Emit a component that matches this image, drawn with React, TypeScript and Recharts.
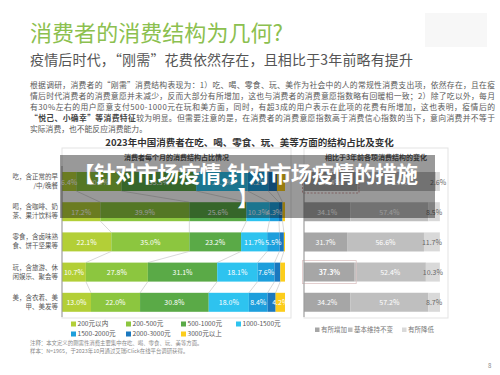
import React from 'react';
import { BarChart, Bar, XAxis, YAxis, LabelList } from 'recharts';

const categories = [
  '吃，含正常的早\n/中/晚餐',
  '喝，含咖啡、奶\n茶、果汁饮料等',
  '零食，含卤味熟\n食、饼干坚果等',
  '玩，含旅游、休\n闲娱乐、聚会等',
  '美，含衣着、美\n甲、美发等',
];
const spendBands = ['200元以内', '200-500元', '500-1000元', '1000-1500元', '1500-2000元', '2000-3000元', '3000元以上'];
const spendShares = [
  [6.4, 20.3, 33.5, 23.1, 9.2, 3.9, 3.6],
  [17.2, 39.9, 25.6, 10.3, 4.3, 1.6, 1.1],
  [22.1, 35.0, 23.2, 11.7, 5.5, 2.0, 0.5],
  [10.7, 27.8, 31.1, 18.1, 7.6, 2.6, 2.1],
  [13.0, 22.0, 30.8, 18.0, 8.4, 3.6, 4.2],
];
const changeLabels = ['有所增加', '基本维持不变', '有所降低'];
const increased = [39.4, 34.1, 31.7, 37.3, 34.2];
const unchanged = [58.0, 57.4, 56.6, 52.4, 57.2];
const decreased = [2.6, 8.5, 11.7, 10.3, 8.7];
const highlightedRows = [0, 3];
const boldRows = [3];

const pageTitle = '消费者的消费结构为几何?';
const pageSubtitle = '疫情后时代，“刚需”花费依然存在，且相比于3年前略有提升';
const paragraph = [
  '根据调研，消费者的“刚需”消费结构表现为：1）吃、喝、零食、玩、美作为社会中的人的常规性消费支出项，依然存在，且在疫',
  '情后时代消费者的消费意愿并未减少，反而大部分有所增加，这也与消费者的消费意愿指数略有回暖相一致；2）除了吃以外，每月',
  '有30%左右的用户愿意支付500-1000元在玩和美方面，同时，有超3成的用户表示在此项的花费有所增加，这也表明，疫情后的',
];
const paragraphBold = '“悦己、小确幸”等消费特征';
const paragraphLine4 = '较为明显。但需要注意的是，在消费者的消费意愿指数高于消费信心指数的当下，意向消费并不等于';
const paragraphLine5 = '实际消费，也不能反应消费能力。';
const chartTitle = '2023年中国消费者在吃、喝、零食、玩、美等方面的结构占比及变化';
const leftHeader = '消费者每个月的消费结构占比情况';
const rightHeader = '相比于3年前各项消费结构的变化';
const notes = ['注释：本文定义的刚需性消费主要集中在吃、喝、零食、玩、美等方面。', '样本：N=1965，于2023年10月通过艾瑞iClick在线平台调研获得。'];
const bannerLines = ['【针对市场疫情,针对市场疫情的措施', '】'];
const pageNumber = '8';

const spendColors = ['#b3cf37', '#8cc63f', '#5aaa47', '#2ec3ef', '#1d9fdc', '#1b78bf', '#fccd1b'];
const changeColors = ['#a6a6a6', '#bfbfbf', '#d9d9d9'];
const FONT = '"Noto Sans CJK SC", "Noto Sans", sans-serif';

const spendData = categories.map((c, r) => {
  const o: any = { cat: c };
  spendBands.forEach((_, s) => { o['s' + s] = spendShares[r][s]; });
  return o;
});
const changeData = categories.map((c, r) => ({ cat: c, inc: increased[r], same: unchanged[r], dec: decreased[r] }));

const CH_H = 170;
const M_TOP = 18;
const M_BOT = 1;
const STEP = (CH_H - M_TOP - M_BOT) / categories.length;
const sum = (a: number[]) => a.reduce((p, v) => p + v, 0);

const makeSpendShape = (s: number) => (props: any) => {
  const { x, y, width, height, index, fill } = props;
  const val = spendShares[index][s];
  const parts: any[] = [<rect key="r" x={x} y={y} width={width} height={height} fill={fill} />];
  if (index < categories.length - 1 && s < spendBands.length - 1 && val > 0) {
    const ppu = width / val;
    const left = x + width - sum(spendShares[index].slice(0, s + 1)) * ppu;
    const nx = left + sum(spendShares[index + 1].slice(0, s + 1)) * ppu;
    parts.push(<line key="l" x1={x + width} y1={y + height} x2={nx} y2={y + STEP} stroke="#c8c8c8" strokeWidth={0.7} />);
  }
  return <g>{parts}</g>;
};

const decShape = (props: any) => {
  const { x, y, width, height, index, fill } = props;
  const parts: any[] = [<rect key="r" x={x} y={y} width={width} height={height} fill={fill} />];
  if (highlightedRows.includes(index) && decreased[index] > 0) {
    const ppu = width / decreased[index];
    const left = x - (increased[index] + unchanged[index]) * ppu;
    parts.push(
      <rect key="h" x={left - 1.5} y={y - 2} width={increased[index] * ppu + 3} height={height + 4} fill="none"
        stroke={index === 0 ? '#c98a8a' : '#dcc4c4'} strokeWidth={0.8} strokeDasharray={index === 0 ? '2 1.5' : undefined} />
    );
  }
  return <g>{parts}</g>;
};

const makeLabel = (color: string, min: number, boldFor?: number[]) => (props: any) => {
  const vb = props.viewBox || props;
  const { x, y, width, height } = vb;
  const value = props.value;
  if (value == null || value < min) return null;
  const bold = boldFor && boldFor.includes(props.index);
  return (
    <text x={x + width / 2} y={y + height / 2} textAnchor="middle" dominantBaseline="central" fill={color}
      fontSize={7} fontFamily={FONT} fontWeight={bold ? 700 : 400}>{Number(value).toFixed(1)}%</text>
  );
};

const CatTick = (props: any) => {
  const { x, y, payload } = props;
  const lines = String(payload.value).split('\n');
  return (
    <text x={x} y={y} textAnchor="end" fontSize={6.5} fill="#555" fontFamily={FONT}>
      {lines.map((l, i) => <tspan key={i} x={x} dy={i === 0 ? -2.2 : 9}>{l}</tspan>)}
    </text>
  );
};

export default function App() {
  return (
    <div style={{ position: 'absolute', left: 0, top: 0, width: 500, height: 375, background: '#fff', fontFamily: FONT, overflow: 'hidden' }}>
      <div style={{ position: 'absolute', left: 425, top: 13, width: 62, height: 34, background: '#f7f7f7' }} />
      <svg width={500} height={375} style={{ position: 'absolute', left: 0, top: 0 }} fontFamily={FONT}>
        <text x={30} y={41} fontSize={22} fill="#8cc04f" textLength={253} lengthAdjust="spacing">{pageTitle}</text>
        <text x={30} y={65} fontSize={14} fill="#555" textLength={383} lengthAdjust="spacing">{pageSubtitle}</text>
        {paragraph.map((l, i) => (
          <text key={i} x={30} y={88 + i * 11} fontSize={7.8} fill="#595959" textLength={465} lengthAdjust="spacing">{l}</text>
        ))}
        <text x={30} y={121} fontSize={7.8} fill="#595959" textLength={465} lengthAdjust="spacing">
          <tspan fontWeight={700} fill="#444">{paragraphBold}</tspan>{paragraphLine4}
        </text>
        <text x={30} y={132} fontSize={7.8} fill="#595959">{paragraphLine5}</text>
        <text x={249.5} y={146} fontSize={9.5} fontWeight={700} fill="#333" textAnchor="middle">{chartTitle}</text>
        <text x={176.5} y={159.5} fontSize={7} fontWeight={700} fill="#555" textAnchor="middle">{leftHeader}</text>
        <text x={376} y={159.5} fontSize={7} fontWeight={700} fill="#555" textAnchor="middle">{rightHeader}</text>
        <rect x={62} y={148} width={229} height={170} fill="none" stroke="#e3e3e3" strokeWidth={1} />
        <rect x={304} y={148} width={144} height={170} fill="none" stroke="#e3e3e3" strokeWidth={1} />
        {spendBands.map((b, i) => {
          const lx = 71 + (i % 4) * 55;
          const ly = 324 + Math.floor(i / 4) * 10;
          return (
            <g key={b}>
              <rect x={lx} y={ly - 2.5} width={5} height={5} fill={spendColors[i]} />
              <text x={lx + 6.5} y={ly + 2.3} fontSize={6.6} fill="#555">{b}</text>
            </g>
          );
        })}
        {changeLabels.map((b, i) => {
          const lx = [315, 348, 402][i];
          return (
            <g key={b}>
              <rect x={lx} y={327.5} width={4.5} height={4.5} fill={changeColors[i]} />
              <text x={lx + 6} y={332.3} fontSize={6.5} fill="#777">{b}</text>
            </g>
          );
        })}
        {notes.map((n, i) => (
          <text key={i} x={30} y={345 + i * 7.5} fontSize={5.4} fill="#888">{n}</text>
        ))}
        <text x={488} y={368} fontSize={6} fill="#888">{pageNumber}</text>
      </svg>

      <div style={{ position: 'absolute', left: 0, top: 148 }}>
        <BarChart width={292} height={CH_H} data={spendData} layout="vertical" barSize={19}
          margin={{ top: M_TOP, right: 7, bottom: M_BOT, left: 0 }}>
          <XAxis type="number" domain={[0, 100]} hide />
          <YAxis type="category" dataKey="cat" width={62} axisLine={{ stroke: '#999' }} tickLine={false}
            tickSize={0} tickMargin={4} tick={<CatTick />} interval={0} />
          {spendBands.map((b, s) => (
            <Bar key={b} dataKey={'s' + s} name={b} stackId="a" fill={spendColors[s]} isAnimationActive={false}
              shape={makeSpendShape(s)}>
              <LabelList dataKey={'s' + s} content={makeLabel('#fff', 4)} />
            </Bar>
          ))}
        </BarChart>
      </div>

      <div style={{ position: 'absolute', left: 292, top: 148 }}>
        <BarChart width={157} height={CH_H} data={changeData} layout="vertical" barSize={19}
          margin={{ top: M_TOP, right: 9, bottom: M_BOT, left: 0 }}>
          <XAxis type="number" domain={[0, 100]} hide />
          <YAxis type="category" dataKey="cat" width={12} axisLine={{ stroke: '#999' }} tickLine={false} tick={false} />
          <Bar dataKey="inc" name={changeLabels[0]} stackId="b" fill={changeColors[0]} isAnimationActive={false}>
            <LabelList dataKey="inc" content={makeLabel('#fff', 0, boldRows)} />
          </Bar>
          <Bar dataKey="same" name={changeLabels[1]} stackId="b" fill={changeColors[1]} isAnimationActive={false}>
            <LabelList dataKey="same" content={makeLabel('#fff', 0)} />
          </Bar>
          <Bar dataKey="dec" name={changeLabels[2]} stackId="b" fill={changeColors[2]} isAnimationActive={false} shape={decShape}>
            <LabelList dataKey="dec" content={makeLabel('#666', 0)} />
          </Bar>
        </BarChart>
      </div>

      <svg width={500} height={375} style={{ position: 'absolute', left: 0, top: 0 }} fontFamily={FONT}>
        <rect x={60} y={155} width={375} height={63} fill="rgba(0,0,0,0.4)" />
        <text x={73} y={181.5} fontSize={21.5} fontWeight={700} fill="#fff" textLength={345} lengthAdjust="spacing">{bannerLines[0]}</text>
        <text x={248} y={205.5} fontSize={21.5} fontWeight={700} fill="#fff" textAnchor="middle">{bannerLines[1]}</text>
      </svg>
    </div>
  );
}
